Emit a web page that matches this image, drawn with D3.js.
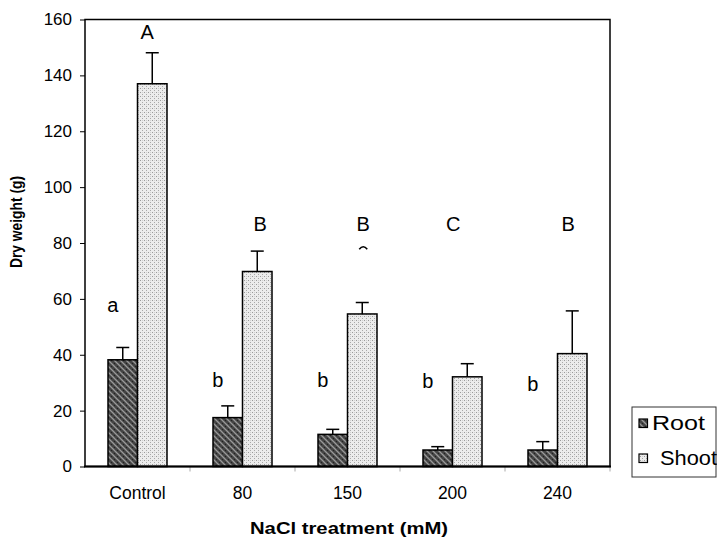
<!DOCTYPE html>
<html>
<head>
<meta charset="utf-8">
<script src="https://cdn.jsdelivr.net/npm/d3@7"></script>
<style>
  html, body { margin: 0; padding: 0; background: #fff; }
  svg { display: block; }
  text { font-family: "Liberation Sans", Arial, sans-serif; fill: #000; }
</style>
</head>
<body>
<svg id="chart" width="717" height="540"></svg>
<script>
// ---- data ----
const categories = ["Control", "80", "150", "200", "240"];
const rootMean = [38.2, 17.5, 11.5, 5.9, 5.9];
const rootErr = [4.4, 4.2, 1.8, 1.2, 3.0];
const shootMean = [137, 69.8, 54.6, 32.1, 40.4];
const shootErr = [11.1, 7.3, 4.1, 4.7, 15.3];
const rootLetters = ["a", "b", "b", "b", "b"];
const rootLetterY = [55.4, 28.6, 28.6, 28.1, 27.2];
const shootLetters = ["A", "B", "B", "C", "B"];
const shootLetterY = [152.9, 84.4, 84.4, 84.4, 84.4];
const yTicks = [0, 20, 40, 60, 80, 100, 120, 140, 160];
const seriesNames = ["Root", "Shoot"];
const xTitle = "NaCl treatment (mM)";
const yTitle = "Dry weight (g)";

// ---- layout ----
const svg = d3.select("#chart");
const mLeft = 85, mRight = 610, mTop = 19.5, mBottom = 466.5;
const barW = 29.5;

const x = d3.scaleBand().domain(categories).range([mLeft, mRight]).paddingInner(0).paddingOuter(0);
const y = d3.scaleLinear().domain([0, 160]).range([mBottom, mTop]);
const cx = c => x(c) + x.bandwidth() / 2;

// patterns
const defs = svg.append("defs");
const pr = defs.append("pattern").attr("id", "rootPat").attr("patternUnits", "userSpaceOnUse")
  .attr("width", 6).attr("height", 6);
pr.append("rect").attr("width", 6).attr("height", 6).attr("fill", "#444");
pr.append("path").attr("d", "M-1,-1 L7,7 M-1,5 L1,7 M5,-1 L7,1").attr("stroke", "#999").attr("stroke-width", 1.3);
pr.append("rect").attr("x", 3).attr("y", 0).attr("width", 1).attr("height", 1).attr("fill", "#222");
pr.append("rect").attr("x", 0).attr("y", 3).attr("width", 1).attr("height", 1).attr("fill", "#222");

const ps = defs.append("pattern").attr("id", "shootPat").attr("patternUnits", "userSpaceOnUse")
  .attr("width", 4).attr("height", 4);
ps.append("rect").attr("width", 4).attr("height", 4).attr("fill", "#ececec");
ps.append("rect").attr("x", 0).attr("y", 0).attr("width", 1).attr("height", 1).attr("fill", "#9a9a9a");
ps.append("rect").attr("x", 2).attr("y", 2).attr("width", 1).attr("height", 1).attr("fill", "#a8a8a8");
ps.append("rect").attr("x", 2).attr("y", 0).attr("width", 1).attr("height", 1).attr("fill", "#d0d0d0");

// x ticks at category boundaries (faint)
const bounds = categories.map(c => x(c) + x.bandwidth());
svg.append("g").selectAll("line").data(bounds).join("line")
  .attr("x1", d => d).attr("x2", d => d)
  .attr("y1", mBottom).attr("y2", mBottom + 5)
  .attr("stroke", "#aaa").attr("stroke-width", 1);

// bars
const g = svg.append("g");
g.selectAll("rect.root").data(categories).join("rect").attr("class", "root")
  .attr("x", c => cx(c) - barW).attr("width", barW)
  .attr("y", (c, i) => y(rootMean[i])).attr("height", (c, i) => y(0) - y(rootMean[i]))
  .attr("fill", "url(#rootPat)").attr("stroke", "#000").attr("stroke-width", 1.5);
g.selectAll("rect.shoot").data(categories).join("rect").attr("class", "shoot")
  .attr("x", c => cx(c)).attr("width", barW)
  .attr("y", (c, i) => y(shootMean[i])).attr("height", (c, i) => y(0) - y(shootMean[i]))
  .attr("fill", "url(#shootPat)").attr("stroke", "#000").attr("stroke-width", 1.5);

// error bars
function errBars(means, errs, off) {
  const eg = svg.append("g").attr("stroke", "#000").attr("stroke-width", 1.5);
  categories.forEach((c, i) => {
    const xc = cx(c) + off;
    eg.append("line").attr("x1", xc).attr("x2", xc).attr("y1", y(means[i])).attr("y2", y(means[i] + errs[i]));
    eg.append("line").attr("x1", xc - 6.5).attr("x2", xc + 6.5).attr("y1", y(means[i] + errs[i])).attr("y2", y(means[i] + errs[i]));
  });
}
errBars(rootMean, rootErr, -barW / 2);
errBars(shootMean, shootErr, barW / 2);

// frame
svg.append("rect").attr("x", mLeft).attr("y", mTop).attr("width", mRight - mLeft).attr("height", mBottom - mTop)
  .attr("fill", "none").attr("stroke", "#000").attr("stroke-width", 1.5);
svg.append("line").attr("x1", mLeft - 1).attr("x2", mRight + 1).attr("y1", mBottom).attr("y2", mBottom)
  .attr("stroke", "#000").attr("stroke-width", 2.2);

// y axis
const yAxis = d3.axisLeft(y).tickValues(yTicks).tickSize(5).tickPadding(8);
const ya = svg.append("g").attr("transform", `translate(${mLeft},0)`).call(yAxis);
ya.select(".domain").remove();
ya.selectAll("line").attr("stroke", "#000").attr("stroke-width", 1);
ya.selectAll("text").attr("font-size", 17).attr("font-family", "Liberation Sans, Arial, sans-serif").attr("fill", "#000");

// x labels
svg.append("g").selectAll("text").data(categories).join("text")
  .attr("x", c => cx(c)).attr("y", 499).attr("text-anchor", "middle")
  .attr("font-size", 17.5).text(c => c);

// significance letters
svg.append("g").selectAll("text").data(categories).join("text")
  .attr("x", c => cx(c) - barW / 2 - 10).attr("y", (c, i) => y(rootLetterY[i]))
  .attr("text-anchor", "middle").attr("font-size", 20).text((c, i) => rootLetters[i]);
const shootDx = [-5, 3, 1, -14, -4];
svg.append("g").selectAll("text").data(categories).join("text")
  .attr("x", (c, i) => cx(c) + barW / 2 + shootDx[i]).attr("y", (c, i) => y(shootLetterY[i]))
  .attr("text-anchor", "middle").attr("font-size", 20).text((c, i) => shootLetters[i]);
// small stray mark under the 150 "B"
{
  const mx = cx("150") + barW / 2 + 1, my = y(78.5);
  svg.append("path").attr("d", `M${mx - 4},${my + 2} Q${mx},${my - 3} ${mx + 4},${my + 2}`)
    .attr("fill", "none").attr("stroke", "#000").attr("stroke-width", 1.6);
}

// axis titles
svg.append("text").attr("x", 349).attr("y", 534).attr("text-anchor", "middle")
  .attr("font-size", 17).attr("font-weight", "bold")
  .attr("textLength", 198).attr("lengthAdjust", "spacingAndGlyphs").text(xTitle);
svg.append("text").attr("transform", "translate(22,222) rotate(-90)").attr("text-anchor", "middle")
  .attr("font-size", 16.5).attr("font-weight", "bold")
  .attr("textLength", 92).attr("lengthAdjust", "spacingAndGlyphs").text(yTitle);

// legend
const lg = svg.append("g");
lg.append("rect").attr("x", 632).attr("y", 407).attr("width", 84).attr("height", 70)
  .attr("fill", "#fff").attr("stroke", "#333").attr("stroke-width", 1);
const legY = [430, 465];
const legX = [652, 660];
const legW = [53, 57];
const pats = ["url(#rootPat)", "url(#shootPat)"];
seriesNames.forEach((n, i) => {
  lg.append("rect").attr("x", 639).attr("y", legY[i] - 11).attr("width", 8.5).attr("height", 8.5)
    .attr("fill", pats[i]).attr("stroke", "#000").attr("stroke-width", 1.2);
  lg.append("text").attr("x", legX[i]).attr("y", legY[i]).attr("font-size", 20)
    .attr("textLength", legW[i]).attr("lengthAdjust", "spacingAndGlyphs").text(n);
});
</script>
</body>
</html>
